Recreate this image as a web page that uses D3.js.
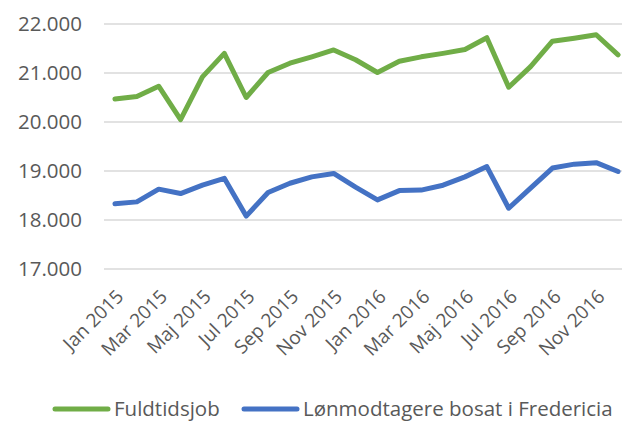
<!DOCTYPE html>
<html lang="da">
<head>
<meta charset="UTF-8">
<title>Fuldtidsjob</title>
<style>
  body { margin: 0; background: #fff; }
  text { font-family: "Open Sans", sans-serif; fill: #595959; }
</style>
</head>
<body>
<script src="https://cdn.jsdelivr.net/npm/d3@7"></script>
<script>
// måneder
var months = ["Jan 2015","Feb 2015","Mar 2015","Apr 2015","Maj 2015","Jun 2015",
  "Jul 2015","Aug 2015","Sep 2015","Okt 2015","Nov 2015","Dec 2015",
  "Jan 2016","Feb 2016","Mar 2016","Apr 2016","Maj 2016","Jun 2016",
  "Jul 2016","Aug 2016","Sep 2016","Okt 2016","Nov 2016","Dec 2016"];

var fuldtid = [20470,20520,20730,20050,20920,21400,20500,21010,21200,21330,21470,21270,
  21010,21240,21330,21400,21480,21720,20710,21130,21650,21710,21780,21370];

var loenmodt = [18330,18370,18630,18540,18710,18850,18080,18560,18750,18880,18950,18670,
  18410,18600,18610,18710,18880,19090,18240,18650,19060,19140,19170,18990];

var yTicks = [17000,18000,19000,20000,21000,22000];

var series = [
  {name: "Fuldtidsjob", values: fuldtid, color: "#70AD47"},
  {name: "Lønmodtagere bosat i Fredericia", values: loenmodt, color: "#4472C4"}
];

var width = 622, height = 421;

var svg = d3.select("body").append("svg")
  .attr("width", width)
  .attr("height", height);

var x = d3.scalePoint()
  .domain(months)
  .range([104, 629])
  .padding(0.5);

var y = d3.scaleLinear()
  .domain([17000, 22000])
  .range([269, 24]);

var fmt = function(d) { return d3.format(",.0f")(d).replace(",", "."); };

// gitterlinjer
svg.append("g").selectAll("line")
  .data(yTicks)
  .enter().append("line")
  .attr("x1", 104).attr("x2", 622)
  .attr("y1", function(d) { return y(d); })
  .attr("y2", function(d) { return y(d); })
  .attr("stroke", "#D9D9D9")
  .attr("stroke-width", 1.3);

// y-akse
var yAxis = svg.append("g")
  .attr("transform", "translate(90,0)")
  .call(d3.axisLeft(y).tickValues(yTicks).tickFormat(fmt).tickSize(0).tickPadding(8));
yAxis.select(".domain").remove();
yAxis.selectAll("text").style("font-size", "20.5px").style("fill", "#595959");

// x-akse, hver anden måned
svg.append("g").selectAll("text")
  .data(months.filter(function(d, i) { return i % 2 === 0; }))
  .enter().append("text")
  .attr("transform", function(d) { return "translate(" + (x(d) + 5) + ",293) rotate(-45)"; })
  .attr("text-anchor", "end")
  .attr("dy", "0.35em")
  .style("font-size", "19px")
  .text(function(d) { return d; });

// linjer
var line = d3.line()
  .x(function(d, i) { return x(months[i]); })
  .y(function(d) { return y(d); });

svg.append("g").selectAll("path")
  .data(series)
  .enter().append("path")
  .attr("d", function(d) { return line(d.values); })
  .attr("fill", "none")
  .attr("stroke", function(d) { return d.color; })
  .attr("stroke-width", 5)
  .attr("stroke-linejoin", "round")
  .attr("stroke-linecap", "round");

// forklaring
var legendX = [53, 242];
var leg = svg.append("g").selectAll("g")
  .data(series)
  .enter().append("g")
  .attr("transform", function(d, i) { return "translate(" + legendX[i] + ",409)"; });
leg.append("line")
  .attr("x1", 2).attr("x2", 55)
  .attr("stroke", function(d) { return d.color; })
  .attr("stroke-width", 5)
  .attr("stroke-linecap", "round");
leg.append("text")
  .attr("x", 61)
  .attr("dy", "0.35em")
  .style("font-size", "20.5px")
  .text(function(d) { return d.name; });
</script>
</body>
</html>
